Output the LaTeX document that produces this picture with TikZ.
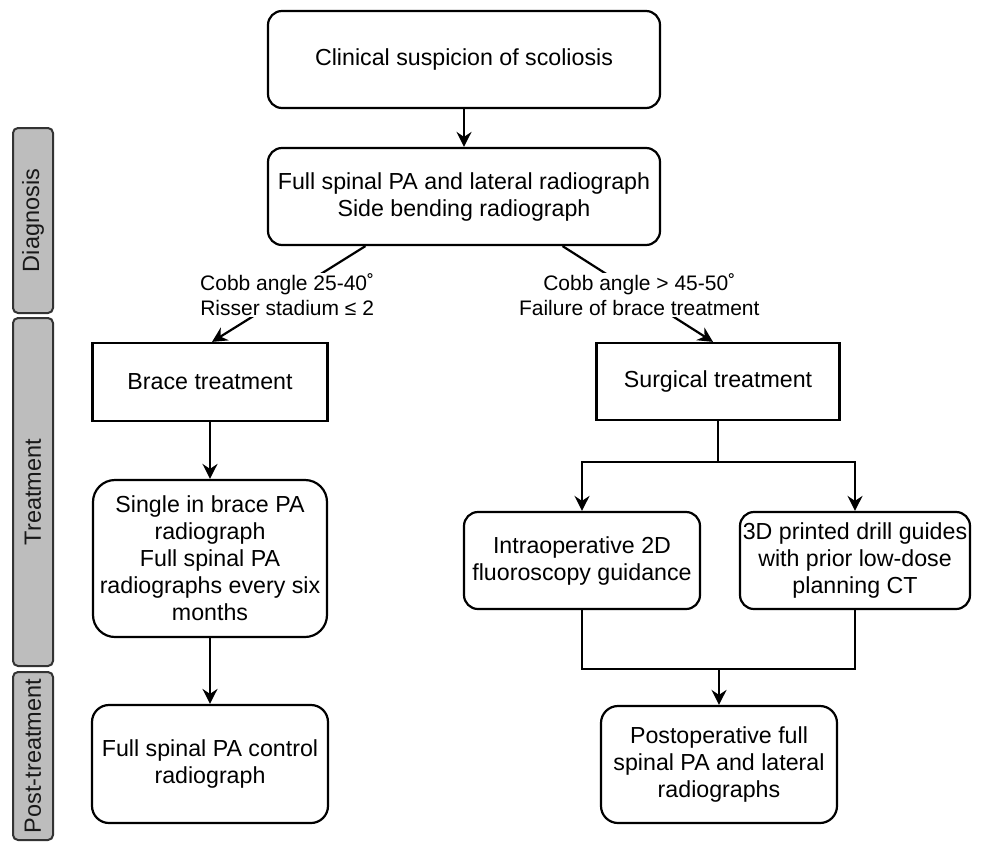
\documentclass[tikz,border=0pt]{standalone}
\usepackage{fontspec}
\setmainfont{Liberation Sans}
\usetikzlibrary{arrows.meta,calc}
\begin{document}
\begin{tikzpicture}[x=1pt,y=-1pt,
  box/.style={draw=black, line width=2.2pt, align=center, inner sep=0pt, text=black, font=\fontsize{23.2}{27}\selectfont},
  rbox/.style={box, rounded corners=#1},
  arr/.style={-{Stealth[length=15pt,width=15pt,inset=5pt]}, line width=2.2pt},
  conn/.style={line width=2.2pt},
  lbl/.style={fill=white, align=center, inner sep=1pt, text=black, font=\fontsize{21}{25}\selectfont},
  bar/.style={draw=black!80, fill=black!26, line width=2pt, rounded corners=5pt, minimum height=40pt, inner sep=0pt, rotate=90, text=black!90, font=\fontsize{23.5}{27}\selectfont}
]
\useasboundingbox (0,0) rectangle (984,843);

% phase bars
\node[bar, minimum width=185pt] (bdiag) at (33,220.5) {Diagnosis};
\node[bar, minimum width=348pt] (btreat) at (33,492) {Treatment};
\node[bar, minimum width=168pt] (bpost) at (33,756) {Post-treatment};

% boxes
\node[rbox=14pt, minimum width=392pt, minimum height=97pt] (clin) at (464,59.5) {Clinical suspicion of scoliosis};
\node[rbox=14pt, minimum width=392pt, minimum height=97pt] (diag) at (464,196.5) {Full spinal PA and lateral radiograph\\Side bending radiograph};
\node[box, minimum width=235pt, minimum height=78pt] (brace) at (210,382) {Brace treatment};
\node[box, minimum width=243pt, minimum height=77pt] (surg) at (718,381.5) {Surgical treatment};
\node[rbox=22pt, minimum width=234pt, minimum height=157pt] (single) at (210,558.5) {Single in brace PA\\radiograph\\Full spinal PA\\radiographs every six\\months};
\node[rbox=17pt, minimum width=236pt, minimum height=118pt] (fullctl) at (210,764) {Full spinal PA control\\radiograph};
\node[rbox=14pt, minimum width=236pt, minimum height=97pt] (intra) at (582,560.5) {Intraoperative 2D\\fluoroscopy guidance};
\node[rbox=14pt, minimum width=230pt, minimum height=97pt] (p3d) at (855,560.5) {3D printed drill guides\\with prior low-dose\\planning CT};
\node[rbox=17pt, minimum width=236pt, minimum height=117pt] (postop) at (719,764.5) {Postoperative full\\spinal PA and lateral\\radiographs};

% connectors
\draw[arr] (clin) -- (diag);
\draw[arr] ($(diag.south west)!0.25!(diag.south east)$) -- ($(brace.north)+(2,0)$)
  node[lbl, pos=0.51] (lblL) {Cobb angle 25-40˚\\Risser stadium ≤ 2};
\draw[arr] ($(diag.south west)!0.75!(diag.south east)$) -- ($(surg.north)+(-5,0)$)
  node[lbl, pos=0.51] (lblR) {Cobb angle > 45-50˚\\Failure of brace treatment};
\draw[arr] (brace) -- (single);
\draw[arr] (single) -- (fullctl);

\coordinate (split) at (718,462);
\draw[conn] (surg.south) -- (split);
\draw[arr] (split) -| (intra.north);
\draw[arr] (split) -| (p3d.north);

\coordinate (merge) at (719,669);
\draw[conn] (intra.south) |- (merge);
\draw[conn] (p3d.south) |- (merge);
\draw[arr] (merge) -- (postop.north);
\end{tikzpicture}
\end{document}
